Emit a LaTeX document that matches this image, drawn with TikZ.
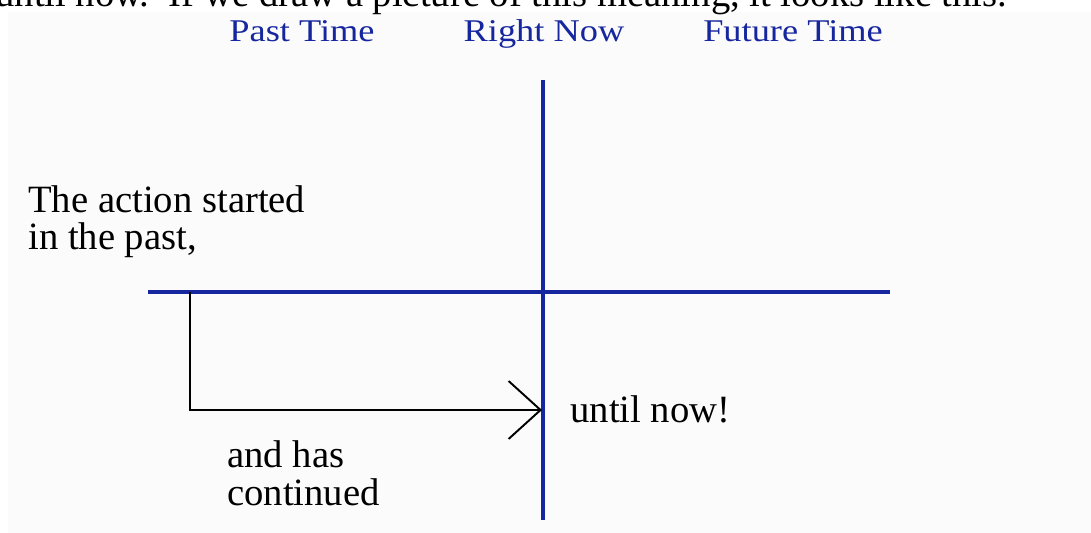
\documentclass[tikz,border=0pt]{standalone}
\usepackage{fontspec}
\setmainfont{Liberation Serif}
\usepackage{tikz}
\usetikzlibrary{arrows.meta}

\definecolor{axisblue}{RGB}{22,38,158}
\definecolor{scanpaper}{RGB}{251,251,251}

\begin{document}
\begin{tikzpicture}[x=0.02cm, y=-0.02cm,
    every node/.style={font=\fontsize{22}{22}\selectfont, inner sep=0pt},
    header/.style={anchor=base, text=axisblue, font=\fontsize{18}{20}\selectfont, xscale=1.15, transform shape},
    note/.style={anchor=base west, align=left, font=\fontsize{22}{21.5}\selectfont},
    axis/.style={axisblue, line width=2.2pt},
    span/.style={black, line width=1.1pt}]
  \useasboundingbox (0,0) rectangle (1091,533);
  \fill[scanpaper] (8,12) rectangle (1091,533);
  % cut-off line of the page above
  \begin{scope}
    \clip (0,0) rectangle (1091,533);
    \node[anchor=base west] (lead) at (-5,7)
      {until now.\ \ If we draw a picture of this meaning, it looks like this.};
  \end{scope}
  % column heads
  \node[header] (past) at (302,42) {Past Time};
  \node[header] (now) at (544,42) {Right Now};
  \node[header] (future) at (793,42) {Future Time};
  % axes
  \coordinate (nowtop) at (543,80);
  \coordinate (nowbot) at (543,520);
  \coordinate (lineleft) at (148,292);
  \coordinate (lineright) at (890,292);
  \draw[axis] (nowtop) -- (nowbot);
  \draw[axis] (lineleft) -- (lineright);
  % action from the past until now
  \coordinate (start) at (190,292);
  \coordinate (corner) at (190,410);
  \coordinate (tip) at (542,410);
  \draw[span, -{Straight Barb[length=0.64cm, width=1.16cm, line width=1.1pt]}] (start) -- (corner) -- (tip);
  % labels
  \node[note] (began) at (28,250) {The action started\\in the past,};
  \node[note] (goes) at (227,505) {and has\\continued};
  \node[note] (until) at (570,422) {until now!};
\end{tikzpicture}
\end{document}
